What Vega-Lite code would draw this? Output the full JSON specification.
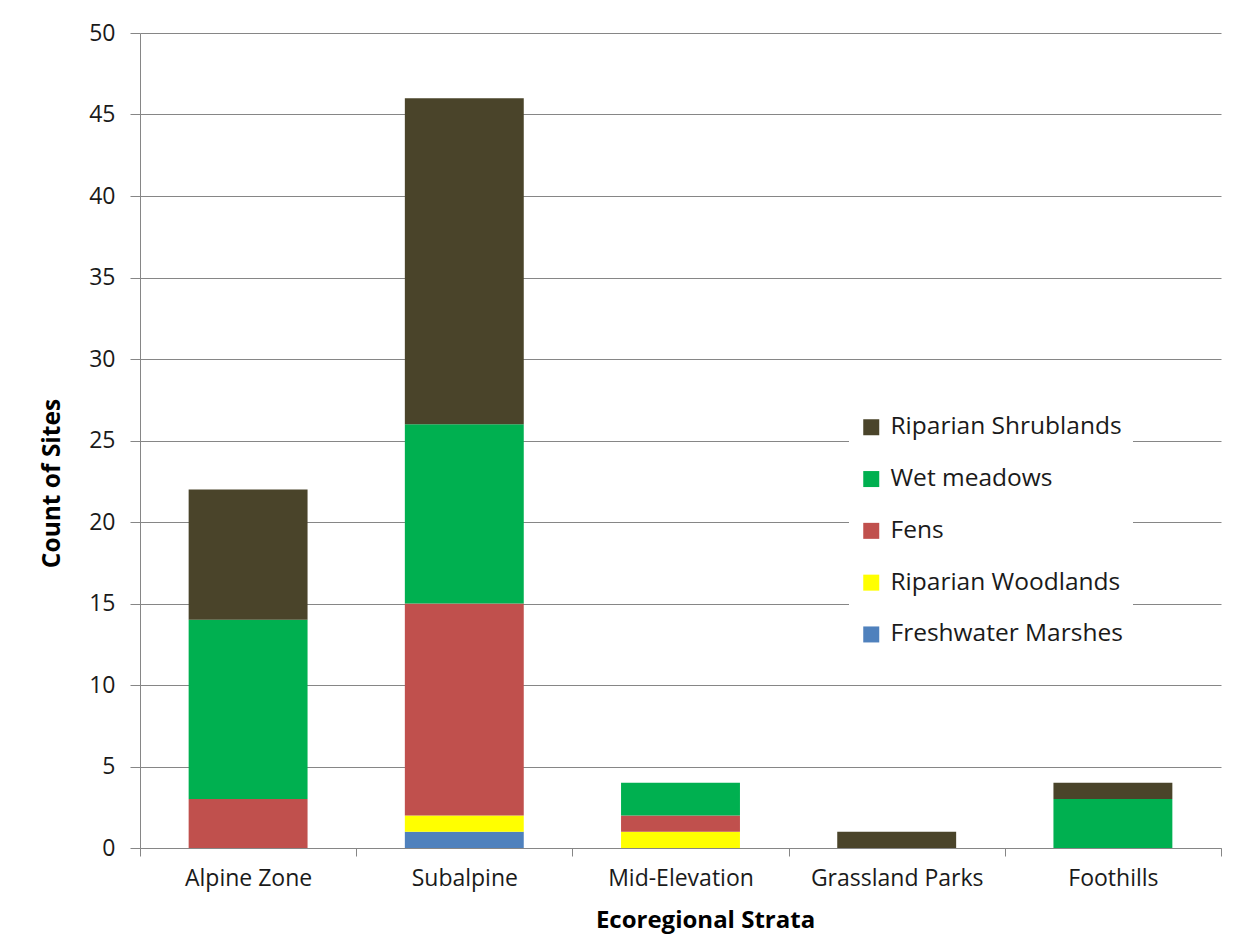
{
  "$schema": "https://vega.github.io/schema/vega-lite/v6.json",
  "width": 1081,
  "height": 815,
  "autosize": {"type": "none"},
  "padding": {"left": 140, "top": 33, "right": 37, "bottom": 95},
  "background": "white",
  "config": {
    "font": "Open Sans",
    "view": {"stroke": null},
    "axis": {
      "labelColor": "#1a1a1a",
      "titleColor": "#000000",
      "labelFont": "Open Sans",
      "titleFont": "Open Sans",
      "domainColor": "#868686",
      "tickColor": "#868686",
      "gridColor": "#868686",
      "domainWidth": 1,
      "tickWidth": 1,
      "gridWidth": 1
    }
  },
  "data": {
    "values": [
      {"stratum": "Alpine Zone", "type": "Fens", "count": 3},
      {"stratum": "Alpine Zone", "type": "Wet meadows", "count": 11},
      {"stratum": "Alpine Zone", "type": "Riparian Shrublands", "count": 8},
      {"stratum": "Subalpine", "type": "Freshwater Marshes", "count": 1},
      {"stratum": "Subalpine", "type": "Riparian Woodlands", "count": 1},
      {"stratum": "Subalpine", "type": "Fens", "count": 13},
      {"stratum": "Subalpine", "type": "Wet meadows", "count": 11},
      {"stratum": "Subalpine", "type": "Riparian Shrublands", "count": 20},
      {"stratum": "Mid-Elevation", "type": "Riparian Woodlands", "count": 1},
      {"stratum": "Mid-Elevation", "type": "Fens", "count": 1},
      {"stratum": "Mid-Elevation", "type": "Wet meadows", "count": 2},
      {"stratum": "Grassland Parks", "type": "Riparian Shrublands", "count": 1},
      {"stratum": "Foothills", "type": "Wet meadows", "count": 3},
      {"stratum": "Foothills", "type": "Riparian Shrublands", "count": 1}
    ]
  },
  "transform": [
    {
      "calculate": "indexof(['Freshwater Marshes', 'Riparian Woodlands', 'Fens', 'Wet meadows', 'Riparian Shrublands'], datum.type)",
      "as": "stackRank"
    }
  ],
  "mark": {"type": "bar", "width": {"band": 0.55}},
  "encoding": {
    "x": {
      "field": "stratum",
      "type": "nominal",
      "sort": ["Alpine Zone", "Subalpine", "Mid-Elevation", "Grassland Parks", "Foothills"],
      "scale": {"paddingInner": 0, "paddingOuter": 0},
      "axis": {
        "title": "Ecoregional Strata",
        "titleFontSize": 24,
        "titleFontWeight": "bold",
        "titleBaseline": "middle",
        "titleX": 565,
        "titleY": 72,
        "labelAngle": 0,
        "labelFontSize": 23,
        "labelPadding": 11,
        "tickSize": 8,
        "tickBand": "extent",
        "grid": false
      }
    },
    "y": {
      "field": "count",
      "type": "quantitative",
      "stack": "zero",
      "scale": {"domain": [0, 50], "nice": false},
      "axis": {
        "title": "Count of Sites",
        "titleFontSize": 24.5,
        "titleFontWeight": "bold",
        "titleBaseline": "middle",
        "titleAlign": "center",
        "titleX": -88,
        "titleY": 450,
        "values": [0, 5, 10, 15, 20, 25, 30, 35, 40, 45, 50],
        "labelFontSize": 23,
        "labelPadding": 15,
        "tickSize": 10,
        "grid": true
      }
    },
    "order": {"field": "stackRank", "type": "quantitative", "sort": "ascending"},
    "color": {
      "field": "type",
      "type": "nominal",
      "scale": {
        "domain": ["Riparian Shrublands", "Wet meadows", "Fens", "Riparian Woodlands", "Freshwater Marshes"],
        "range": ["#4A442A", "#00B050", "#C0504D", "#FFFF00", "#4F81BD"]
      },
      "legend": {
        "title": null,
        "orient": "none",
        "legendX": 709,
        "legendY": 372,
        "fillColor": "white",
        "padding": 10,
        "symbolType": "square",
        "symbolSize": 256,
        "symbolStrokeWidth": 0,
        "symbolOpacity": 1,
        "labelFontSize": 24.5,
        "labelColor": "#1a1a1a",
        "labelOffset": 7,
        "rowPadding": 26.8,
        "labelLimit": 400
      }
    }
  }
}
